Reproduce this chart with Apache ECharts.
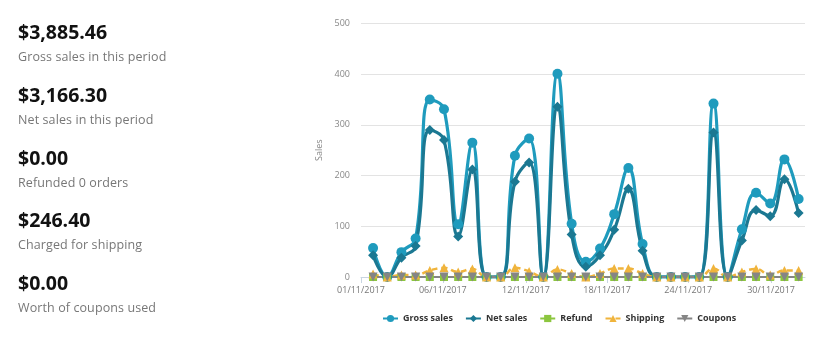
<!DOCTYPE html>
<html>
<head>
<meta charset="utf-8">
<script src="https://cdn.jsdelivr.net/npm/echarts@6/dist/echarts.min.js"></script>
<style>
  html, body { margin: 0; padding: 0; background: #fff; }
  #wrap { position: relative; width: 830px; height: 341px; overflow: hidden; font-family: "Open Sans", sans-serif; }
  #chart { position: absolute; left: 0; top: 0; width: 830px; height: 341px; }
  .blk { position: absolute; left: 18px; }
  .val { font-size: 19.5px; font-weight: 700; color: #111; line-height: 19px; white-space: nowrap; }
  .lbl { font-size: 12.5px; color: #777; line-height: 13px; margin-top: 9px; letter-spacing: 0.1px; white-space: nowrap; }
</style>
</head>
<body>
<div id="wrap">
  <div id="chart"></div>
  <div id="summary"></div>
</div>
<script>
// ---- data ----
const summaryValues = ['$3,885.46', '$3,166.30', '$0.00', '$246.40', '$0.00'];
const summaryLabels = ['Gross sales in this period', 'Net sales in this period', 'Refunded 0 orders', 'Charged for shipping', 'Worth of coupons used'];

const dates = ['01/11/2017','02/11/2017','03/11/2017','04/11/2017','05/11/2017','06/11/2017','07/11/2017','08/11/2017','09/11/2017','10/11/2017',
               '11/11/2017','12/11/2017','13/11/2017','14/11/2017','15/11/2017','16/11/2017','17/11/2017','18/11/2017','19/11/2017','20/11/2017',
               '21/11/2017','22/11/2017','23/11/2017','24/11/2017','25/11/2017','26/11/2017','27/11/2017','28/11/2017','29/11/2017','30/11/2017','01/12/2017'];

const grossSales = [57, 0, 49, 76, 350, 331, 104, 265, 0, 0, 239, 273, 0, 401, 105, 30, 56, 124, 215, 65, 0, 0, 0, 0, 342, 0, 94, 166, 145, 232, 154];
const netSales   = [43, 0, 38, 61, 290, 270, 80, 212, 0, 0, 188, 226, 0, 336, 84, 20, 43, 93, 174, 52, 0, 0, 0, 0, 285, 0, 72, 132, 120, 193, 126];
const refund     = [0, 0, 0, 0, 0, 0, 0, 0, 0, 0, 0, 0, 0, 0, 0, 0, 0, 0, 0, 0, 0, 0, 0, 0, 0, 0, 0, 0, 0, 0, 0];
const shipping   = [6, 0, 4, 4, 13, 18, 10, 16, 0, 0, 18, 11, 0, 15, 7, 0, 7, 17, 17, 7, 0, 0, 0, 0, 17, 0, 10, 16, 4, 13, 13];
const coupons    = [0, 0, 0, 0, 0, 0, 0, 0, 0, 0, 0, 0, 0, 0, 0, 0, 0, 0, 0, 0, 0, 0, 0, 0, 0, 0, 0, 0, 0, 0, 0];

// x tick labels and where they fall (in days from 01/11)
const tickLabels = ['01/11/2017', '06/11/2017', '12/11/2017', '18/11/2017', '24/11/2017', '30/11/2017'];
const tickDays   = [-0.85, 4.92, 10.78, 16.5, 22.22, 28.06];

const yTicks = [0, 100, 200, 300, 400, 500];

// ---- summary panel ----
const sum = document.getElementById('summary');
summaryValues.forEach((v, i) => {
  const d = document.createElement('div');
  d.className = 'blk';
  d.style.top = (22 + i * 62.8) + 'px';
  d.innerHTML = '<div class="val"></div><div class="lbl"></div>';
  d.querySelector('.val').textContent = v;
  d.querySelector('.lbl').textContent = summaryLabels[i];
  sum.appendChild(d);
});

// ---- chart ----
const toPairs = arr => arr.map((v, i) => [i, v]);
const chart = echarts.init(document.getElementById('chart'), null, { renderer: 'canvas' });

const FONT = '"Open Sans", sans-serif';
function mk(name, data, color, symbol, size, extra) {
  return Object.assign({
    name: name,
    type: 'line',
    data: toPairs(data),
    smooth: 0.45,
    symbol: symbol,
    symbolSize: size,
    showAllSymbol: true,
    color: color,
    itemStyle: { color: color },
    lineStyle: { color: color, width: 3.2 },
    emphasis: { disabled: true },
    animation: false
  }, extra || {});
}

chart.setOption({
  animation: false,
  textStyle: { fontFamily: FONT },
  grid: { left: 361, right: 25, top: 23.5, bottom: 64, containLabel: false },
  legend: {
    left: 377,
    top: 309,
    itemWidth: 15,
    itemHeight: 9,
    itemGap: 12,
    textStyle: { fontFamily: FONT, fontSize: 9, fontWeight: 'bold', color: '#333' },
    data: ['Gross sales', 'Net sales', 'Refund', 'Shipping', 'Coupons']
  },
  xAxis: {
    type: 'value',
    min: tickDays[0],
    max: 30.45,
    splitLine: { show: false },
    axisLine: { show: true, lineStyle: { color: '#c8d5e2', width: 1 } },
    axisTick: { show: true, length: 6, lineStyle: { color: '#c8d5e2' }, customValues: tickDays },
    axisLabel: {
      customValues: tickDays,
      fontFamily: FONT, fontSize: 9, color: '#777', margin: 9,
      formatter: function (val) {
        let best = 0, bd = Infinity;
        tickDays.forEach((t, i) => { const d = Math.abs(t - val); if (d < bd) { bd = d; best = i; } });
        return tickLabels[best];
      }
    }
  },
  yAxis: {
    type: 'value',
    min: yTicks[0],
    max: yTicks[yTicks.length - 1],
    interval: 100,
    name: 'Sales',
    nameLocation: 'middle',
    nameGap: 31,
    nameTextStyle: { fontFamily: FONT, fontSize: 9, color: '#888' },
    axisLine: { show: false },
    axisTick: { show: false },
    axisLabel: { fontFamily: FONT, fontSize: 9, color: '#888', margin: 11 },
    splitLine: { lineStyle: { color: '#e3e3e3', width: 1 } }
  },
  series: [
    mk('Gross sales', grossSales, '#1f9bbd', 'circle', 10),
    mk('Net sales', netSales, '#1b7892', 'diamond', 10),
    mk('Refund', refund, '#8cc63f', 'rect', 8, { lineStyle: { color: '#8cc63f', width: 2 } }),
    mk('Shipping', shipping, '#f0b43c', 'triangle', 9, { lineStyle: { color: '#f0b43c', width: 2.5, type: [6, 4] } }),
    mk('Coupons', coupons, '#858585', 'triangle', 9, { symbolRotate: 180, lineStyle: { color: '#858585', width: 2 } })
  ]
});
</script>
</body>
</html>
